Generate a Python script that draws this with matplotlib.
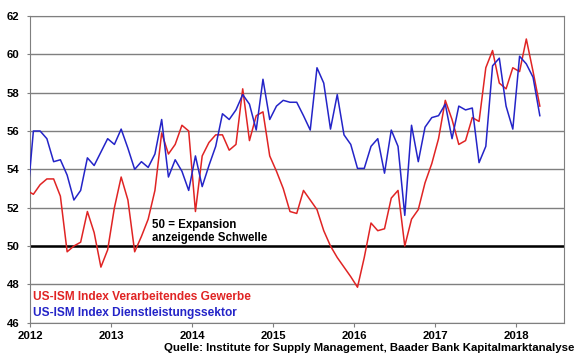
import matplotlib.pyplot as plt
import numpy as np

plt.rcParams['font.family'] = ['Liberation Sans', 'DejaVu Sans']
plt.rcParams['font.weight'] = 'bold'

# Monatswerte Dez 2011 .. Apr 2018 (Dez 2011 wird an der Achse abgeschnitten)
verarbeitend = [52.9,
    52.7, 53.2, 53.5, 53.5, 52.6, 49.7, 50.0, 50.2, 51.8, 50.7, 48.9, 49.8,
    52.0, 53.6, 52.4, 49.7, 50.5, 51.4, 52.9, 55.9, 54.8, 55.3, 56.3, 56.0,
    51.8, 54.7, 55.4, 55.8, 55.8, 55.0, 55.3, 58.2, 55.5, 56.8, 57.0, 54.7,
    53.9, 53.0, 51.8, 51.7, 52.9, 52.4, 51.9, 50.8, 50.0, 49.4, 48.9, 48.4,
    47.85, 49.4, 51.2, 50.8, 50.9, 52.5, 52.9, 50.0, 51.4, 51.9, 53.3, 54.3,
    55.6, 57.6, 56.6, 55.3, 55.5, 56.7, 56.5, 59.3, 60.2, 58.5, 58.2, 59.3,
    59.1, 60.8, 59.1, 57.3]
dienstleistung = [52.0,
    56.0, 56.0, 55.6, 54.4, 54.5, 53.7, 52.4, 52.9, 54.6, 54.2, 54.9, 55.6,
    55.3, 56.1, 55.1, 54.0, 54.4, 54.1, 54.8, 56.6, 53.6, 54.5, 53.9, 52.9,
    54.7, 53.1, 54.2, 55.2, 56.9, 56.6, 57.1, 57.9, 57.4, 56.05, 58.7, 56.6,
    57.3, 57.6, 57.5, 57.5, 56.8, 56.05, 59.3, 58.5, 56.1, 57.9, 55.8, 55.3,
    54.05, 54.05, 55.2, 55.6, 53.8, 56.05, 55.2, 51.6, 56.3, 54.4, 56.2, 56.7,
    56.8, 57.4, 55.6, 57.3, 57.1, 57.2, 54.35, 55.2, 59.4, 59.8, 57.3, 56.1,
    59.9, 59.5, 58.8, 56.8]
jahre = list(range(2012, 2019))

monate = np.arange(-1, len(verarbeitend) - 1)
x = 2012 + (monate + 0.5) / 12

fig = plt.figure(figsize=(5.8, 3.59), dpi=100)
ax = fig.add_axes([30 / 580, 36.3 / 359, 534 / 580, 306.7 / 359])

ax.yaxis.grid(True, color='#7f7f7f', lw=1.0)
ax.set_axisbelow(True)
ax.axhline(50, color='black', lw=1.8, zorder=2)
ax.plot(x, verarbeitend, color='#e02424', lw=1.1, zorder=3)
ax.plot(x, dienstleistung, color='#2424c8', lw=1.1, zorder=4)

ax.set_xlim(2012, 2018.59)
ax.set_ylim(46, 62)
ax.set_yticks(range(46, 63, 2))
ax.set_xticks(jahre)
for s in ax.spines.values():
    s.set_color('#7f7f7f')
ax.tick_params(axis='y', length=2.5, pad=5, labelsize=8.2, color='#7f7f7f')
ax.tick_params(axis='x', length=3, pad=3, labelsize=8.2, color='#7f7f7f')

ax.text(2013.51, 51.1, '50 = Expansion', fontsize=8.3, va='center')
ax.text(2013.51, 50.4, 'anzeigende Schwelle', fontsize=8.3, va='center')
ax.text(2012.04, 47.34, 'US-ISM Index Verarbeitendes Gewerbe', color='#e02424',
        fontsize=8.6, va='center')
ax.text(2012.04, 46.52, 'US-ISM Index Dienstleistungssektor', color='#2424c8',
        fontsize=8.6, va='center')
fig.text(574 / 580, 1 - 348.3 / 359,
         'Quelle: Institute for Supply Management, Baader Bank Kapitalmarktanalyse',
         ha='right', va='center', fontsize=8.2)

plt.savefig('out.png', dpi=100)
